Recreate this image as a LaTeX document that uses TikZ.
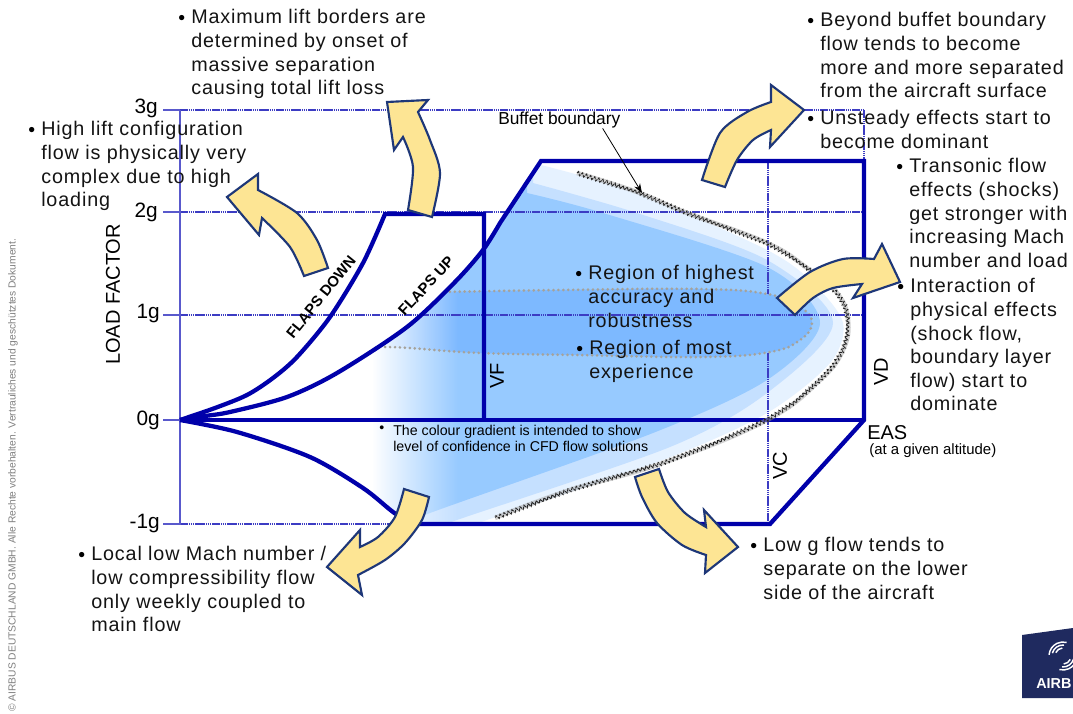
\documentclass[tikz,border=0pt]{standalone}
\usepackage{fontspec}
\usetikzlibrary{decorations.pathmorphing,fadings,arrows.meta}
\setmainfont{Liberation Sans}
\newfontfamily\widesans[LetterSpace=4.4]{Liberation Sans}
\definecolor{envblue}{RGB}{0,0,170}
\definecolor{gridblue}{RGB}{60,60,195}
\definecolor{arrowfill}{RGB}{253,229,148}
\definecolor{arrowline}{RGB}{30,55,120}
\definecolor{lay1}{RGB}{230,242,255}
\definecolor{lay2}{RGB}{197,224,255}
\definecolor{lay3}{RGB}{151,202,255}
\definecolor{lay4}{RGB}{125,185,255}
\definecolor{logoblue}{RGB}{31,42,95}
\definecolor{dotgray}{RGB}{165,162,155}
\tikzfading[name=fadeleft,left color=transparent!0,right color=transparent!100]
\tikzset{
  x=0.75pt,y=-0.75pt,
  envelope/.style={draw=envblue,line width=3.2pt,line join=miter},
  gridline/.style={draw=gridblue,line width=1pt,dash pattern=on 1.2pt off 0.4pt},
  axisline/.style={draw=gridblue!85!white,line width=1pt},
  bigarrow/.style={draw=arrowline,fill=arrowfill,line width=1.6pt,line join=miter},
  txt/.style={font=\widesans\fontsize{14.8}{17.7}\selectfont,align=left,anchor=north west,inner sep=0pt,text=black!92,execute at begin node=\rule{0pt}{11pt}},
  bul/.style={font=\fontsize{14.6}{17.7}\selectfont,anchor=north west,inner sep=0pt,execute at begin node=\rule{0pt}{11pt}},
  smalltxt/.style={font=\fontsize{10.65}{12}\selectfont,align=left,anchor=north west,inner sep=0pt},
  ticklab/.style={font=\fontsize{15.6}{18}\selectfont,anchor=east,inner sep=0pt},
  vlab/.style={font=\fontsize{15}{18}\selectfont,rotate=90,inner sep=0pt},
  flapslab/.style={font=\bfseries\fontsize{11.2}{13}\selectfont,inner sep=0pt},
}
\def\upperflaps{(180,420) (205,416) (230,412) (287,397) (337,373) (407,327) (455,282) (483,250) (500,223)}
\def\lowerflaps{(180,420) (237,432) (310,457) (363,488) (393,512) (415,526)}
\def\corepts{(440,292) (560,290) (700,289) (767,294) (800,307) (812,323) (800,340) (770,352) (703,357) (577,355) (480,353) (410,348) (383,347)}
\begin{document}
\begin{tikzpicture}
\useasboundingbox (0,0) rectangle (1073,713);
\fill[white] (0,0) rectangle (1073,713);
% shaded region
\begin{scope}
  \clip plot[smooth] coordinates {\upperflaps} -- (541,161) -- (864,161) -- (864,420) -- (770,524) -- (415,524) -- (393,512) -- (363,488) -- (310,457) -- cycle;
  \fill[lay1] (372,150) -- (541,155) -- plot[smooth] coordinates {(541,165) (637,193) (767,250) (813,283) (843,323) (830,363) (767,413) (663,460) (487,520) (470,528)} -- (372,530) -- cycle;
  \fill[lay2] (372,150) -- (533,170) -- plot[smooth] coordinates {(533,183) (637,213) (767,260) (833,323) (767,393) (670,447) (457,520) (440,528)} -- (372,530) -- cycle;
  \fill[lay3] (372,150) -- (527,180) -- plot[smooth] coordinates {(527,193) (603,213) (767,267) (820,323) (767,380) (653,433) (430,513) (415,522)} -- (372,530) -- cycle;
  \draw[gridline] (768,161) -- (768,524);
  \fill[lay4] (372,292) -- plot[smooth,tension=0.7] coordinates {\corepts} -- (372,346) -- cycle;
  \fill[white,path fading=fadeleft] (372,150) rectangle (458,530);
  \draw[dotgray,line width=2.2pt,line cap=round,dash pattern=on 0pt off 3.7pt] plot[smooth,tension=0.7] coordinates {\corepts};
\end{scope}
% grid
\draw[gridline] (180,110) -- (864,110);
\draw[gridline] (180,212) -- (864,212);
\draw[gridline] (180,315) -- (864,315);
\draw[gridline] (180,524) -- (420,524);
\draw[gridline] (864,110) -- (864,161);
\draw[axisline] (180,110) -- (180,525);
\foreach \ty in {110,212,315,420,524} \draw[axisline] (163,\ty) -- (180,\ty);
% envelope
\draw[envelope] (180,420) -- (864,420);
\draw[envelope] plot[smooth] coordinates {(180,420) (215,408) (247,395) (273,378) (297,357) (330,317) (363,263) (385,214)} -- (484,214) -- (484,420);
\draw[envelope] plot[smooth] coordinates {\upperflaps} -- (541,161) -- (864,161) -- (864,420) -- (770,524) -- (415,524);
\draw[envelope] plot[smooth] coordinates {\lowerflaps};
% buffet boundary
\coordinate (buffetpt) at (642,193);
\draw[black!35,line width=3.4pt,opacity=.5] plot[smooth,tension=0.7] coordinates {(577,173) (637,192) (687,213) (767,243) (807,268) (837,293) (848,320) (843,350) (820,380) (767,420) (663,463) (570,490) (495,518)};
\draw[black!85,line width=0.7pt,decorate,decoration={zigzag,segment length=3.2pt,amplitude=1.4pt},dash pattern=on 2.6pt off 0.7pt] (577,173) -- (637,192) -- (687,213) -- (767,243) -- (790,256) -- (807,268) -- (823,280) -- (837,293) -- (845,306) -- (848,320) -- (847,335) -- (843,350) -- (833,366) -- (820,380) -- (795,402) -- (767,420) -- (715,443) -- (663,463) -- (570,490) -- (495,518);
% axis texts
\node[ticklab] (l3) at (158,108) {3g};
\node[ticklab] (l2) at (158,212) {2g};
\node[ticklab] (l1) at (160,314) {1g};
\node[ticklab] (l0) at (160,420) {0g};
\node[ticklab] (lm) at (160,523) {-1g};
\node[font=\fontsize{15}{18}\selectfont,rotate=90,inner sep=0pt] (lf) at (113,294.5) {LOAD FACTOR};
\node[vlab] (vf) at (497,376) {VF};
\node[vlab] (vd) at (881,372) {VD};
\node[vlab] (vc) at (780,466) {VC};
\node[flapslab,rotate=51] (fd) at (321,297) {FLAPS DOWN};
\node[flapslab,rotate=47] (fu) at (426,286) {FLAPS UP};
\node[font=\fontsize{15}{16}\selectfont,anchor=west,inner sep=0pt] (eas) at (867,433) {EAS};
\node[font=\fontsize{11.2}{12}\selectfont,anchor=west,inner sep=0pt] (alt) at (869,451) {(at a given altitude)};
\node[font=\fontsize{13}{14}\selectfont,anchor=west,inner sep=0pt] (buf) at (498,120) {Buffet boundary};
\draw[-{Stealth[length=7pt,width=5pt]},line width=0.6pt] (buf.south east) ++(-18,0) coordinate (bufstart) -- (buffetpt);
% bullets and text
\node[bul] (b1) at (178,9.3) {•};  \node[txt] (t1) at (191,9.3) {Maximum lift borders are\\determined by onset of\\massive separation\\causing total lift loss};
\node[bul] (b2) at (28,121.3) {•}; \node[txt] (t2) at (41,121.3) {High lift configuration\\flow is physically very\\complex due to high\\loading};
\node[bul] (b3) at (807,12.3) {•}; \node[txt] (t3) at (820,12.3) {Beyond buffet boundary\\flow tends to become\\more and more separated\\from the aircraft surface};
\node[bul] (b4) at (807,110.3) {•}; \node[txt] (t4) at (820,110.3) {Unsteady effects start to\\become dominant};
\node[bul] (b5) at (896,158.3) {•}; \node[txt] (t5) at (909,158.3) {Transonic flow\\effects (shocks)\\get stronger with\\increasing Mach\\number and load};
\node[bul] (b6) at (897,278.3) {•}; \node[txt] (t6) at (910,278.3) {Interaction of\\physical effects\\(shock flow,\\boundary layer\\flow) start to\\dominate};
\node[bul] (b7) at (575,265.3) {•}; \node[txt] (t7) at (588,265.3) {Region of highest\\accuracy and\\robustness};
\node[bul] (b8) at (576,340.3) {•}; \node[txt] (t8) at (589,340.3) {Region of most\\experience};
\node[bul] (b9) at (78,546.3) {•}; \node[txt] (t9) at (91,546.3) {Local low Mach number /\\low compressibility flow\\only weekly coupled to\\main flow};
\node[bul] (b10) at (750,537.3) {•}; \node[txt] (t10) at (763,537.3) {Low g flow tends to\\separate on the lower\\side of the aircraft};
\node[smalltxt] (b11) at (379,426) {•}; \node[smalltxt] (t11) at (393,425) {The colour gradient is intended to show\\level of confidence in CFD flow solutions};
% big arrows
\draw[bigarrow] (408,210) -- plot[smooth] coordinates {(408,210) (413,167) (403,137)} -- (394,150) -- (387,102) -- (428,100) -- (418,112) -- plot[smooth] coordinates {(418,112) (430,140) (440,173) (432,217)} -- cycle;
\draw[bigarrow] (328,268) -- (304,276) -- plot[smooth] coordinates {(304,276) (290,247) (262,218)} -- (259,235) -- (227,197) -- (258,174) -- (258,190) -- plot[smooth] coordinates {(258,190) (297,213) (317,240) (328,268)} -- cycle;
\draw[bigarrow] (702,180) -- (725,187) -- plot[smooth] coordinates {(725,187) (737,160) (753,140) (771,130)} -- (770,147) -- (804,110) -- (771,85) -- (771,102) -- plot[smooth] coordinates {(771,102) (747,112) (720,133) (702,180)} -- cycle;
\draw[bigarrow] (777,298) -- (795,315) -- plot[smooth] coordinates {(795,315) (813,298) (833,288) (862,284)} -- (853,298) -- (900,282) -- (882,244) -- (874,259) -- plot[smooth] coordinates {(874,259) (843,259) (810,272) (777,298)} -- cycle;
\draw[bigarrow] (404,489) -- (429,497) -- plot[smooth] coordinates {(429,497) (422,520) (405,543) (385,560) (358,575)} -- (362,595) -- (327,567) -- (360,530) -- (360,547) -- plot[smooth] coordinates {(360,547) (378,537) (395,517) (404,489)} -- cycle;
\draw[bigarrow] (635,477) -- (659,469) -- plot[smooth] coordinates {(659,469) (668,492) (685,513) (706,527)} -- (704,510) -- (738,547) -- (705,573) -- (706,555) -- plot[smooth] coordinates {(706,555) (682,545) (657,523) (642,497) (635,477)} -- cycle;
% copyright
\node[font=\fontsize{7.7}{9}\selectfont,text=black!50,rotate=90,anchor=west,inner sep=0pt] (copy) at (13,712) {© AIRBUS DEUTSCHLAND GMBH. Alle Rechte vorbehalten. Vertrauliches und geschütztes Dokument.};
% logo
\begin{scope}
  \clip (1022,635) -- (1073,628) -- (1073,698) -- (1022,698) -- cycle;
  \fill[logoblue] (1022,635) -- (1073,628) -- (1073,698) -- (1022,698) -- cycle;
  \foreach \r/\a/\b in {14/185/285,11/195/275,8/205/265} \draw[white,line width=1.1pt] (1063,656) ++(\a:\r) arc[start angle=\a,end angle=\b,radius=\r];
  \foreach \r/\a/\b in {14/5/105,11/15/95,8/25/85} \draw[white,line width=1.1pt] (1063,656) ++(\a:\r) arc[start angle=\a,end angle=\b,radius=\r];
  \node[font=\bfseries\fontsize{10.8}{12}\selectfont,text=white,anchor=base west,inner sep=0pt] (logo) at (1036,688) {AIRB};
\end{scope}
\end{tikzpicture}
\end{document}
